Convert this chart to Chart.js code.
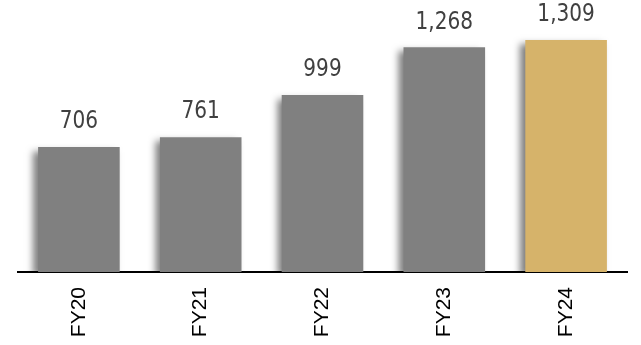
<!DOCTYPE html>
<html>
<head>
<meta charset="utf-8">
<script src="https://cdn.jsdelivr.net/npm/chart.js@4/dist/chart.umd.min.js"></script>
<style>
  html, body { margin: 0; padding: 0; background: #ffffff; }
  #wrap { width: 641px; height: 345px; position: relative; }
</style>
</head>
<body>
<div id="wrap"><canvas id="c"></canvas></div>
<script>
// Fiscal years and their values
const categories = ['FY20', 'FY21', 'FY22', 'FY23', 'FY24'];
const values = [706, 761, 999, 1268, 1309];
const valueLabels = ['706', '761', '999', '1,268', '1,309'];
const barColors = ['#808080', '#808080', '#808080', '#808080', '#D6B36A'];

// Soft drop shadow to the lower left of the bars
const barShadow = {
  id: 'barShadow',
  beforeDatasetsDraw(chart) {
    const ctx = chart.ctx;
    ctx.save();
    ctx.shadowColor = 'rgba(0,0,0,0.5)';
    ctx.shadowBlur = 7;
    ctx.shadowOffsetX = -5;
    ctx.shadowOffsetY = 4;
  },
  afterDatasetsDraw(chart) {
    chart.ctx.restore();
  }
};

// Value text above each bar (slightly narrowed glyphs)
const valueText = {
  id: 'valueText',
  afterDatasetsDraw(chart) {
    const ctx = chart.ctx;
    const meta = chart.getDatasetMeta(0);
    const sx = 0.93;
    ctx.save();
    ctx.shadowColor = 'transparent';
    ctx.font = '24px "DejaVu Sans Condensed", "DejaVu Sans", sans-serif';
    ctx.fillStyle = '#404040';
    ctx.textAlign = 'center';
    ctx.textBaseline = 'middle';
    meta.data.forEach((bar, i) => {
      ctx.save();
      ctx.translate(bar.x, bar.y - 25);
      ctx.scale(sx, 1);
      ctx.fillText(valueLabels[i], 0, 0);
      ctx.restore();
    });
    ctx.restore();
  }
};

new Chart(document.getElementById('c'), {
  type: 'bar',
  data: {
    labels: categories,
    datasets: [{
      data: values,
      backgroundColor: barColors,
      borderWidth: 0,
      categoryPercentage: 0.67,
      barPercentage: 1.0
    }]
  },
  options: {
    responsive: true,
    maintainAspectRatio: false,
    animation: false,
    layout: { padding: { left: 18, right: 14, top: 0, bottom: 0 } },
    plugins: {
      legend: { display: false },
      tooltip: { enabled: false }
    },
    scales: {
      x: {
        grid: { display: false, drawTicks: false },
        border: { display: true, color: '#000000', width: 2 },
        ticks: {
          color: '#000000',
          font: { family: '"Liberation Sans", Arial, sans-serif', size: 21 },
          minRotation: 90,
          maxRotation: 90,
          padding: 15
        },
        afterFit(scale) { scale.height = 73; }
      },
      y: {
        display: false,
        min: 0,
        max: 1535
      }
    }
  },
  plugins: [barShadow, valueText]
});
</script>
</body>
</html>
